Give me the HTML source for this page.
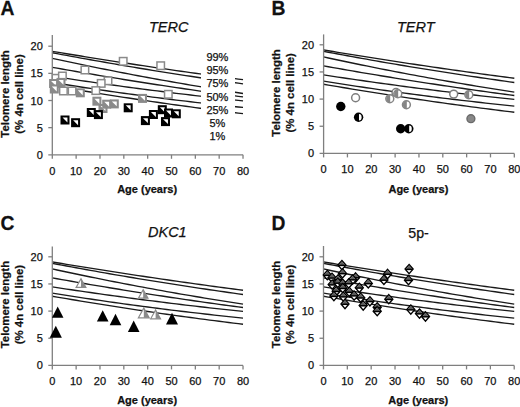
<!DOCTYPE html><html><head><meta charset="utf-8"><style>
html,body{margin:0;padding:0;background:#fff;width:520px;height:407px;overflow:hidden}
svg{display:block}
text{font-family:"Liberation Sans", sans-serif;fill:#111;stroke:#111;stroke-width:0.25px}
.t{font-size:11px}
.p{font-size:11px}
.b{font-size:11.45px;font-weight:bold}
.ax{font-size:11px;font-weight:bold}
.L{font-size:21px;font-weight:bold}
.ti{font-size:14.5px;font-style:italic}
</style></head><body>
<svg width="520" height="407" viewBox="0 0 520 407">
<rect width="520" height="407" fill="#fff"/>
<text transform="translate(0.5 14.8) scale(0.92 1)" class="L">A</text>
<text transform="translate(271.6 14.8) scale(0.92 1)" class="L">B</text>
<text transform="translate(0.5 230.3) scale(0.92 1)" class="L">C</text>
<text transform="translate(271.6 230.4) scale(0.92 1)" class="L">D</text>
<text x="149" y="31.7" class="ti">TERC</text>
<text x="397" y="31.7" class="ti">TERT</text>
<text x="148" y="236.9" class="ti">DKC1</text>
<text x="408.3" y="237.8" style="font-size:14.2px">5p-</text>
<polyline points="52.3,51.34 57.07,52.14 61.84,52.93 66.6,53.71 71.37,54.49 76.14,55.27 80.91,56.04 85.68,56.81 90.44,57.57 95.21,58.33 99.98,59.09 104.75,59.84 109.52,60.58 114.28,61.32 119.05,62.06 123.82,62.79 128.59,63.52 133.36,64.24 138.12,64.96 142.89,65.68 147.66,66.39 152.43,67.09 157.2,67.8 161.96,68.49 166.73,69.19 171.5,69.88 176.27,70.56 181.04,71.24 185.8,71.91 190.57,72.59 195.34,73.25 200.11,73.91 204.88,74.57 209.64,75.23 214.41,75.87 219.18,76.52 223.95,77.16 228.72,77.8 233.48,78.43 238.25,79.05 243.02,79.68" fill="none" stroke="#1a1a1a" stroke-width="1.35"/>
<polyline points="52.3,52.75 57.07,53.65 61.84,54.54 66.6,55.43 71.37,56.31 76.14,57.18 80.91,58.05 85.68,58.91 90.44,59.76 95.21,60.61 99.98,61.46 104.75,62.29 109.52,63.12 114.28,63.95 119.05,64.77 123.82,65.58 128.59,66.38 133.36,67.18 138.12,67.98 142.89,68.76 147.66,69.54 152.43,70.32 157.2,71.09 161.96,71.85 166.73,72.6 171.5,73.35 176.27,74.1 181.04,74.84 185.8,75.57 190.57,76.29 195.34,77.01 200.11,77.72 204.88,78.43 209.64,79.13 214.41,79.82 219.18,80.51 223.95,81.19 228.72,81.87 233.48,82.54 238.25,83.2 243.02,83.86" fill="none" stroke="#1a1a1a" stroke-width="1.35"/>
<polyline points="52.3,58.34 57.07,59.37 61.84,60.39 66.6,61.41 71.37,62.42 76.14,63.42 80.91,64.41 85.68,65.4 90.44,66.38 95.21,67.35 99.98,68.31 104.75,69.26 109.52,70.21 114.28,71.15 119.05,72.08 123.82,73 128.59,73.91 133.36,74.82 138.12,75.72 142.89,76.61 147.66,77.49 152.43,78.36 157.2,79.23 161.96,80.09 166.73,80.94 171.5,81.78 176.27,82.61 181.04,83.44 185.8,84.26 190.57,85.07 195.34,85.87 200.11,86.67 204.88,87.46 209.64,88.24 214.41,89.01 219.18,89.77 223.95,90.53 228.72,91.27 233.48,92.01 238.25,92.74 243.02,93.47" fill="none" stroke="#1a1a1a" stroke-width="1.35"/>
<polyline points="52.3,67.32 57.07,68.17 61.84,69.01 66.6,69.85 71.37,70.68 76.14,71.51 80.91,72.33 85.68,73.14 90.44,73.95 95.21,74.76 99.98,75.56 104.75,76.35 109.52,77.14 114.28,77.92 119.05,78.69 123.82,79.47 128.59,80.23 133.36,80.99 138.12,81.75 142.89,82.49 147.66,83.24 152.43,83.98 157.2,84.71 161.96,85.43 166.73,86.16 171.5,86.87 176.27,87.58 181.04,88.29 185.8,88.98 190.57,89.68 195.34,90.37 200.11,91.05 204.88,91.72 209.64,92.4 214.41,93.06 219.18,93.72 223.95,94.38 228.72,95.02 233.48,95.67 238.25,96.31 243.02,96.94" fill="none" stroke="#1a1a1a" stroke-width="1.35"/>
<polyline points="52.3,76.29 57.07,77.01 61.84,77.74 66.6,78.45 71.37,79.16 76.14,79.87 80.91,80.56 85.68,81.26 90.44,81.94 95.21,82.62 99.98,83.3 104.75,83.97 109.52,84.63 114.28,85.29 119.05,85.94 123.82,86.58 128.59,87.22 133.36,87.86 138.12,88.49 142.89,89.11 147.66,89.73 152.43,90.34 157.2,90.94 161.96,91.54 166.73,92.14 171.5,92.72 176.27,93.31 181.04,93.88 185.8,94.45 190.57,95.02 195.34,95.57 200.11,96.13 204.88,96.67 209.64,97.22 214.41,97.75 219.18,98.28 223.95,98.8 228.72,99.32 233.48,99.84 238.25,100.34 243.02,100.84" fill="none" stroke="#1a1a1a" stroke-width="1.35"/>
<polyline points="52.3,82.52 57.07,83.29 61.84,84.04 66.6,84.79 71.37,85.54 76.14,86.27 80.91,87 85.68,87.72 90.44,88.44 95.21,89.14 99.98,89.84 104.75,90.54 109.52,91.22 114.28,91.9 119.05,92.57 123.82,93.23 128.59,93.89 133.36,94.54 138.12,95.18 142.89,95.81 147.66,96.44 152.43,97.06 157.2,97.67 161.96,98.28 166.73,98.87 171.5,99.46 176.27,100.05 181.04,100.62 185.8,101.19 190.57,101.75 195.34,102.31 200.11,102.85 204.88,103.39 209.64,103.93 214.41,104.45 219.18,104.97 223.95,105.48 228.72,105.98 233.48,106.48 238.25,106.97 243.02,107.45" fill="none" stroke="#1a1a1a" stroke-width="1.35"/>
<polyline points="52.3,85.64 57.07,86.46 61.84,87.28 66.6,88.09 71.37,88.89 76.14,89.69 80.91,90.48 85.68,91.26 90.44,92.04 95.21,92.81 99.98,93.58 104.75,94.34 109.52,95.09 114.28,95.84 119.05,96.58 123.82,97.31 128.59,98.04 133.36,98.76 138.12,99.48 142.89,100.19 147.66,100.89 152.43,101.59 157.2,102.28 161.96,102.96 166.73,103.64 171.5,104.31 176.27,104.98 181.04,105.63 185.8,106.29 190.57,106.93 195.34,107.57 200.11,108.21 204.88,108.83 209.64,109.45 214.41,110.07 219.18,110.68 223.95,111.28 228.72,111.87 233.48,112.46 238.25,113.05 243.02,113.62" fill="none" stroke="#1a1a1a" stroke-width="1.35"/>
<path d="M52.3 35V158.8" stroke="#7f7f7f" stroke-width="1.3" fill="none"/>
<path d="M48.3 154.8H243.02" stroke="#7f7f7f" stroke-width="1.3" fill="none"/>
<path d="M48.3 127.65H52.3" stroke="#7f7f7f" stroke-width="1.3"/>
<path d="M48.3 100.5H52.3" stroke="#7f7f7f" stroke-width="1.3"/>
<path d="M48.3 73.35H52.3" stroke="#7f7f7f" stroke-width="1.3"/>
<path d="M48.3 46.2H52.3" stroke="#7f7f7f" stroke-width="1.3"/>
<path d="M76.14 154.8V158.8" stroke="#7f7f7f" stroke-width="1.3"/>
<path d="M99.98 154.8V158.8" stroke="#7f7f7f" stroke-width="1.3"/>
<path d="M123.82 154.8V158.8" stroke="#7f7f7f" stroke-width="1.3"/>
<path d="M147.66 154.8V158.8" stroke="#7f7f7f" stroke-width="1.3"/>
<path d="M171.5 154.8V158.8" stroke="#7f7f7f" stroke-width="1.3"/>
<path d="M195.34 154.8V158.8" stroke="#7f7f7f" stroke-width="1.3"/>
<path d="M219.18 154.8V158.8" stroke="#7f7f7f" stroke-width="1.3"/>
<path d="M243.02 154.8V158.8" stroke="#7f7f7f" stroke-width="1.3"/>
<text x="42.8" y="158.8" text-anchor="end" class="t">0</text>
<text x="42.8" y="131.65" text-anchor="end" class="t">5</text>
<text x="42.8" y="104.5" text-anchor="end" class="t">10</text>
<text x="42.8" y="77.35" text-anchor="end" class="t">15</text>
<text x="42.8" y="50.2" text-anchor="end" class="t">20</text>
<text x="52.3" y="174.6" text-anchor="middle" class="t">0</text>
<text x="76.14" y="174.6" text-anchor="middle" class="t">10</text>
<text x="99.98" y="174.6" text-anchor="middle" class="t">20</text>
<text x="123.82" y="174.6" text-anchor="middle" class="t">30</text>
<text x="147.66" y="174.6" text-anchor="middle" class="t">40</text>
<text x="171.5" y="174.6" text-anchor="middle" class="t">50</text>
<text x="195.34" y="174.6" text-anchor="middle" class="t">60</text>
<text x="219.18" y="174.6" text-anchor="middle" class="t">70</text>
<text x="243.02" y="174.6" text-anchor="middle" class="t">80</text>
<text x="147.1" y="192.8" text-anchor="middle" class="ax">Age (years)</text>
<text transform="translate(8.6 94) rotate(-90)" text-anchor="middle" class="b">Telomere length</text>
<text transform="translate(23 94) rotate(-90)" text-anchor="middle" class="b">(% 4n cell line)</text>
<rect x="201" y="40" width="34" height="105" fill="#fff"/>
<text x="217.4" y="60.6" text-anchor="middle" class="p">99%</text>
<text x="217.4" y="73.9" text-anchor="middle" class="p">95%</text>
<text x="217.4" y="87.2" text-anchor="middle" class="p">75%</text>
<text x="217.4" y="100.5" text-anchor="middle" class="p">50%</text>
<text x="217.4" y="113.8" text-anchor="middle" class="p">25%</text>
<text x="217.4" y="127.1" text-anchor="middle" class="p">5%</text>
<text x="217.4" y="140.4" text-anchor="middle" class="p">1%</text>
<rect x="119.45" y="57.55" width="7.5" height="7.5" fill="#fff" stroke="#8a8a8a" stroke-width="1.5"/>
<rect x="156.95" y="61.95" width="7.5" height="7.5" fill="#fff" stroke="#8a8a8a" stroke-width="1.5"/>
<rect x="81.15" y="66.25" width="7.5" height="7.5" fill="#fff" stroke="#8a8a8a" stroke-width="1.5"/>
<rect x="52.25" y="74.55" width="7.5" height="7.5" fill="#fff" stroke="#8a8a8a" stroke-width="1.5"/>
<rect x="58.65" y="72.25" width="7.5" height="7.5" fill="#fff" stroke="#8a8a8a" stroke-width="1.5"/>
<rect x="104.25" y="77.05" width="7.5" height="7.5" fill="#fff" stroke="#8a8a8a" stroke-width="1.5"/>
<rect x="97.45" y="79.65" width="7.5" height="7.5" fill="#fff" stroke="#8a8a8a" stroke-width="1.5"/>
<rect x="59.65" y="87.25" width="7.5" height="7.5" fill="#fff" stroke="#8a8a8a" stroke-width="1.5"/>
<rect x="68.35" y="87.25" width="7.5" height="7.5" fill="#fff" stroke="#8a8a8a" stroke-width="1.5"/>
<rect x="92.05" y="86.85" width="7.5" height="7.5" fill="#fff" stroke="#8a8a8a" stroke-width="1.5"/>
<rect x="164.55" y="90.55" width="7.5" height="7.5" fill="#fff" stroke="#8a8a8a" stroke-width="1.5"/>
<rect x="57.25" y="78.65" width="7.5" height="7.5" fill="#8a8a8a" stroke="#8a8a8a" stroke-width="1.5"/>
<path d="M58.55 79.95H63.45V84.85Z" fill="#fff"/>
<rect x="49.85" y="79.75" width="7.5" height="7.5" fill="#8a8a8a" stroke="#8a8a8a" stroke-width="1.5"/>
<path d="M51.15 81.05H56.05V85.95Z" fill="#fff"/>
<rect x="50.55" y="85.25" width="7.5" height="7.5" fill="#8a8a8a" stroke="#8a8a8a" stroke-width="1.5"/>
<path d="M51.85 86.55H56.75V91.45Z" fill="#fff"/>
<rect x="76.55" y="89.05" width="7.5" height="7.5" fill="#8a8a8a" stroke="#8a8a8a" stroke-width="1.5"/>
<path d="M77.85 90.35H82.75V95.25Z" fill="#fff"/>
<rect x="99.25" y="104.75" width="7.5" height="7.5" fill="#8a8a8a" stroke="#8a8a8a" stroke-width="1.5"/>
<path d="M100.55 106.05H105.45V110.95Z" fill="#fff"/>
<rect x="93.15" y="97.45" width="7.5" height="7.5" fill="#8a8a8a" stroke="#8a8a8a" stroke-width="1.5"/>
<path d="M94.45 98.75H99.35V103.65Z" fill="#fff"/>
<rect x="102.95" y="100.45" width="7.5" height="7.5" fill="#8a8a8a" stroke="#8a8a8a" stroke-width="1.5"/>
<path d="M104.25 101.75H109.15V106.65Z" fill="#fff"/>
<rect x="110.55" y="100.15" width="7.5" height="7.5" fill="#8a8a8a" stroke="#8a8a8a" stroke-width="1.5"/>
<path d="M111.85 101.45H116.75V106.35Z" fill="#fff"/>
<rect x="138.75" y="94.65" width="7.5" height="7.5" fill="#8a8a8a" stroke="#8a8a8a" stroke-width="1.5"/>
<path d="M140.05 95.95H144.95V100.85Z" fill="#fff"/>
<rect x="61.25" y="116.25" width="7.5" height="7.5" fill="#000" stroke="#000" stroke-width="1.5"/>
<path d="M62.55 117.55H67.45V122.45Z" fill="#fff"/>
<rect x="71.85" y="118.95" width="7.5" height="7.5" fill="#000" stroke="#000" stroke-width="1.5"/>
<path d="M73.15 120.25H78.05V125.15Z" fill="#fff"/>
<rect x="87.55" y="108.75" width="7.5" height="7.5" fill="#000" stroke="#000" stroke-width="1.5"/>
<path d="M88.85 110.05H93.75V114.95Z" fill="#fff"/>
<rect x="94.65" y="110.85" width="7.5" height="7.5" fill="#000" stroke="#000" stroke-width="1.5"/>
<path d="M95.95 112.15H100.85V117.05Z" fill="#fff"/>
<rect x="124.45" y="104.05" width="7.5" height="7.5" fill="#000" stroke="#000" stroke-width="1.5"/>
<path d="M125.75 105.35H130.65V110.25Z" fill="#fff"/>
<rect x="141.65" y="116.85" width="7.5" height="7.5" fill="#000" stroke="#000" stroke-width="1.5"/>
<path d="M142.95 118.15H147.85V123.05Z" fill="#fff"/>
<rect x="158.55" y="105.95" width="7.5" height="7.5" fill="#000" stroke="#000" stroke-width="1.5"/>
<path d="M159.85 107.25H164.75V112.15Z" fill="#fff"/>
<rect x="164.75" y="109.25" width="7.5" height="7.5" fill="#000" stroke="#000" stroke-width="1.5"/>
<path d="M166.05 110.55H170.95V115.45Z" fill="#fff"/>
<rect x="172.55" y="110.05" width="7.5" height="7.5" fill="#000" stroke="#000" stroke-width="1.5"/>
<path d="M173.85 111.35H178.75V116.25Z" fill="#fff"/>
<rect x="149.65" y="110.75" width="7.5" height="7.5" fill="#000" stroke="#000" stroke-width="1.5"/>
<path d="M150.95 112.05H155.85V116.95Z" fill="#fff"/>
<rect x="161.75" y="117.85" width="7.5" height="7.5" fill="#000" stroke="#000" stroke-width="1.5"/>
<path d="M163.05 119.15H167.95V124.05Z" fill="#fff"/>
<polyline points="323.6,49.94 328.37,50.74 333.14,51.53 337.9,52.31 342.67,53.09 347.44,53.87 352.21,54.64 356.98,55.41 361.74,56.17 366.51,56.93 371.28,57.69 376.05,58.44 380.82,59.18 385.58,59.92 390.35,60.66 395.12,61.39 399.89,62.12 404.66,62.84 409.42,63.56 414.19,64.28 418.96,64.99 423.73,65.69 428.5,66.4 433.26,67.09 438.03,67.79 442.8,68.48 447.57,69.16 452.34,69.84 457.1,70.51 461.87,71.19 466.64,71.85 471.41,72.51 476.18,73.17 480.94,73.83 485.71,74.47 490.48,75.12 495.25,75.76 500.02,76.4 504.78,77.03 509.55,77.65 514.32,78.28" fill="none" stroke="#1a1a1a" stroke-width="1.35"/>
<polyline points="323.6,51.35 328.37,52.25 333.14,53.14 337.9,54.03 342.67,54.91 347.44,55.78 352.21,56.65 356.98,57.51 361.74,58.36 366.51,59.21 371.28,60.06 376.05,60.89 380.82,61.72 385.58,62.55 390.35,63.37 395.12,64.18 399.89,64.98 404.66,65.78 409.42,66.58 414.19,67.36 418.96,68.14 423.73,68.92 428.5,69.69 433.26,70.45 438.03,71.2 442.8,71.95 447.57,72.7 452.34,73.44 457.1,74.17 461.87,74.89 466.64,75.61 471.41,76.32 476.18,77.03 480.94,77.73 485.71,78.42 490.48,79.11 495.25,79.79 500.02,80.47 504.78,81.14 509.55,81.8 514.32,82.46" fill="none" stroke="#1a1a1a" stroke-width="1.35"/>
<polyline points="323.6,56.94 328.37,57.97 333.14,58.99 337.9,60.01 342.67,61.02 347.44,62.02 352.21,63.01 356.98,64 361.74,64.98 366.51,65.95 371.28,66.91 376.05,67.86 380.82,68.81 385.58,69.75 390.35,70.68 395.12,71.6 399.89,72.51 404.66,73.42 409.42,74.32 414.19,75.21 418.96,76.09 423.73,76.96 428.5,77.83 433.26,78.69 438.03,79.54 442.8,80.38 447.57,81.21 452.34,82.04 457.1,82.86 461.87,83.67 466.64,84.47 471.41,85.27 476.18,86.06 480.94,86.84 485.71,87.61 490.48,88.37 495.25,89.13 500.02,89.87 504.78,90.61 509.55,91.34 514.32,92.07" fill="none" stroke="#1a1a1a" stroke-width="1.35"/>
<polyline points="323.6,65.92 328.37,66.77 333.14,67.61 337.9,68.45 342.67,69.28 347.44,70.11 352.21,70.93 356.98,71.74 361.74,72.55 366.51,73.36 371.28,74.16 376.05,74.95 380.82,75.74 385.58,76.52 390.35,77.29 395.12,78.07 399.89,78.83 404.66,79.59 409.42,80.35 414.19,81.09 418.96,81.84 423.73,82.58 428.5,83.31 433.26,84.03 438.03,84.76 442.8,85.47 447.57,86.18 452.34,86.89 457.1,87.58 461.87,88.28 466.64,88.97 471.41,89.65 476.18,90.32 480.94,91 485.71,91.66 490.48,92.32 495.25,92.98 500.02,93.62 504.78,94.27 509.55,94.91 514.32,95.54" fill="none" stroke="#1a1a1a" stroke-width="1.35"/>
<polyline points="323.6,74.89 328.37,75.61 333.14,76.34 337.9,77.05 342.67,77.76 347.44,78.47 352.21,79.16 356.98,79.86 361.74,80.54 366.51,81.22 371.28,81.9 376.05,82.57 380.82,83.23 385.58,83.89 390.35,84.54 395.12,85.18 399.89,85.82 404.66,86.46 409.42,87.09 414.19,87.71 418.96,88.33 423.73,88.94 428.5,89.54 433.26,90.14 438.03,90.74 442.8,91.32 447.57,91.91 452.34,92.48 457.1,93.05 461.87,93.62 466.64,94.17 471.41,94.73 476.18,95.27 480.94,95.82 485.71,96.35 490.48,96.88 495.25,97.4 500.02,97.92 504.78,98.44 509.55,98.94 514.32,99.44" fill="none" stroke="#1a1a1a" stroke-width="1.35"/>
<polyline points="323.6,81.12 328.37,81.89 333.14,82.64 337.9,83.39 342.67,84.14 347.44,84.87 352.21,85.6 356.98,86.32 361.74,87.04 366.51,87.74 371.28,88.44 376.05,89.14 380.82,89.82 385.58,90.5 390.35,91.17 395.12,91.83 399.89,92.49 404.66,93.14 409.42,93.78 414.19,94.41 418.96,95.04 423.73,95.66 428.5,96.27 433.26,96.88 438.03,97.47 442.8,98.06 447.57,98.65 452.34,99.22 457.1,99.79 461.87,100.35 466.64,100.91 471.41,101.45 476.18,101.99 480.94,102.53 485.71,103.05 490.48,103.57 495.25,104.08 500.02,104.58 504.78,105.08 509.55,105.57 514.32,106.05" fill="none" stroke="#1a1a1a" stroke-width="1.35"/>
<polyline points="323.6,84.24 328.37,85.06 333.14,85.88 337.9,86.69 342.67,87.49 347.44,88.29 352.21,89.08 356.98,89.86 361.74,90.64 366.51,91.41 371.28,92.18 376.05,92.94 380.82,93.69 385.58,94.44 390.35,95.18 395.12,95.91 399.89,96.64 404.66,97.36 409.42,98.08 414.19,98.79 418.96,99.49 423.73,100.19 428.5,100.88 433.26,101.56 438.03,102.24 442.8,102.91 447.57,103.58 452.34,104.23 457.1,104.89 461.87,105.53 466.64,106.17 471.41,106.81 476.18,107.43 480.94,108.05 485.71,108.67 490.48,109.28 495.25,109.88 500.02,110.47 504.78,111.06 509.55,111.65 514.32,112.22" fill="none" stroke="#1a1a1a" stroke-width="1.35"/>
<path d="M323.6 34.4V157.4" stroke="#7f7f7f" stroke-width="1.3" fill="none"/>
<path d="M319.6 153.4H514.32" stroke="#7f7f7f" stroke-width="1.3" fill="none"/>
<path d="M319.6 126.25H323.6" stroke="#7f7f7f" stroke-width="1.3"/>
<path d="M319.6 99.1H323.6" stroke="#7f7f7f" stroke-width="1.3"/>
<path d="M319.6 71.95H323.6" stroke="#7f7f7f" stroke-width="1.3"/>
<path d="M319.6 44.8H323.6" stroke="#7f7f7f" stroke-width="1.3"/>
<path d="M347.44 153.4V157.4" stroke="#7f7f7f" stroke-width="1.3"/>
<path d="M371.28 153.4V157.4" stroke="#7f7f7f" stroke-width="1.3"/>
<path d="M395.12 153.4V157.4" stroke="#7f7f7f" stroke-width="1.3"/>
<path d="M418.96 153.4V157.4" stroke="#7f7f7f" stroke-width="1.3"/>
<path d="M442.8 153.4V157.4" stroke="#7f7f7f" stroke-width="1.3"/>
<path d="M466.64 153.4V157.4" stroke="#7f7f7f" stroke-width="1.3"/>
<path d="M490.48 153.4V157.4" stroke="#7f7f7f" stroke-width="1.3"/>
<path d="M514.32 153.4V157.4" stroke="#7f7f7f" stroke-width="1.3"/>
<text x="314.1" y="157.4" text-anchor="end" class="t">0</text>
<text x="314.1" y="130.25" text-anchor="end" class="t">5</text>
<text x="314.1" y="103.1" text-anchor="end" class="t">10</text>
<text x="314.1" y="75.95" text-anchor="end" class="t">15</text>
<text x="314.1" y="48.8" text-anchor="end" class="t">20</text>
<text x="323.6" y="173.2" text-anchor="middle" class="t">0</text>
<text x="347.44" y="173.2" text-anchor="middle" class="t">10</text>
<text x="371.28" y="173.2" text-anchor="middle" class="t">20</text>
<text x="395.12" y="173.2" text-anchor="middle" class="t">30</text>
<text x="418.96" y="173.2" text-anchor="middle" class="t">40</text>
<text x="442.8" y="173.2" text-anchor="middle" class="t">50</text>
<text x="466.64" y="173.2" text-anchor="middle" class="t">60</text>
<text x="490.48" y="173.2" text-anchor="middle" class="t">70</text>
<text x="514.32" y="173.2" text-anchor="middle" class="t">80</text>
<text x="418.4" y="192.5" text-anchor="middle" class="ax">Age (years)</text>
<text transform="translate(279.8 92.9) rotate(-90)" text-anchor="middle" class="b">Telomere length</text>
<text transform="translate(294.3 92.9) rotate(-90)" text-anchor="middle" class="b">(% 4n cell line)</text>
<circle cx="340.8" cy="106.5" r="4.7" fill="#000"/>
<circle cx="400.7" cy="128.8" r="4.7" fill="#000"/>
<circle cx="358.6" cy="117.2" r="4.7" fill="#000"/>
<path d="M359 113.9A2.6 3.3 0 0 1 359 120.5Z" fill="#fff"/>
<circle cx="408.8" cy="128.8" r="4.7" fill="#000"/>
<path d="M409.2 125.5A2.6 3.3 0 0 1 409.2 132.1Z" fill="#fff"/>
<circle cx="355.6" cy="97.7" r="3.95" fill="#fff" stroke="#7d7d7d" stroke-width="1.5"/>
<circle cx="453.7" cy="94.1" r="3.95" fill="#fff" stroke="#7d7d7d" stroke-width="1.5"/>
<circle cx="389.8" cy="98.8" r="3.95" fill="#fff" stroke="#858585" stroke-width="1.5"/>
<path d="M390.2 94.85A3.95 3.95 0 0 0 390.2 102.75Z" fill="#858585"/>
<circle cx="396" cy="92.5" r="3.95" fill="#fff" stroke="#7d7d7d" stroke-width="1.5"/>
<circle cx="397.8" cy="93.8" r="3.95" fill="#fff" stroke="#858585" stroke-width="1.5"/>
<path d="M398.2 89.85A3.95 3.95 0 0 0 398.2 97.75Z" fill="#858585"/>
<circle cx="406.4" cy="104.7" r="3.95" fill="#fff" stroke="#858585" stroke-width="1.5"/>
<path d="M406.8 100.75A3.95 3.95 0 0 0 406.8 108.65Z" fill="#858585"/>
<circle cx="468.8" cy="94.7" r="3.95" fill="#fff" stroke="#858585" stroke-width="1.5"/>
<path d="M469.2 90.75A3.95 3.95 0 0 0 469.2 98.65Z" fill="#858585"/>
<circle cx="470.9" cy="118.7" r="3.95" fill="#888" stroke="#6a6a6a" stroke-width="1.4"/>
<polyline points="52.3,261.94 57.07,262.74 61.84,263.53 66.6,264.31 71.37,265.09 76.14,265.87 80.91,266.64 85.68,267.41 90.44,268.17 95.21,268.93 99.98,269.69 104.75,270.44 109.52,271.18 114.28,271.92 119.05,272.66 123.82,273.39 128.59,274.12 133.36,274.84 138.12,275.56 142.89,276.28 147.66,276.99 152.43,277.69 157.2,278.4 161.96,279.09 166.73,279.79 171.5,280.48 176.27,281.16 181.04,281.84 185.8,282.51 190.57,283.19 195.34,283.85 200.11,284.51 204.88,285.17 209.64,285.83 214.41,286.47 219.18,287.12 223.95,287.76 228.72,288.4 233.48,289.03 238.25,289.65 243.02,290.28" fill="none" stroke="#1a1a1a" stroke-width="1.35"/>
<polyline points="52.3,263.35 57.07,264.25 61.84,265.14 66.6,266.03 71.37,266.91 76.14,267.78 80.91,268.65 85.68,269.51 90.44,270.36 95.21,271.21 99.98,272.06 104.75,272.89 109.52,273.72 114.28,274.55 119.05,275.37 123.82,276.18 128.59,276.98 133.36,277.78 138.12,278.58 142.89,279.36 147.66,280.14 152.43,280.92 157.2,281.69 161.96,282.45 166.73,283.2 171.5,283.95 176.27,284.7 181.04,285.44 185.8,286.17 190.57,286.89 195.34,287.61 200.11,288.32 204.88,289.03 209.64,289.73 214.41,290.42 219.18,291.11 223.95,291.79 228.72,292.47 233.48,293.14 238.25,293.8 243.02,294.46" fill="none" stroke="#1a1a1a" stroke-width="1.35"/>
<polyline points="52.3,268.94 57.07,269.97 61.84,270.99 66.6,272.01 71.37,273.02 76.14,274.02 80.91,275.01 85.68,276 90.44,276.98 95.21,277.95 99.98,278.91 104.75,279.86 109.52,280.81 114.28,281.75 119.05,282.68 123.82,283.6 128.59,284.51 133.36,285.42 138.12,286.32 142.89,287.21 147.66,288.09 152.43,288.96 157.2,289.83 161.96,290.69 166.73,291.54 171.5,292.38 176.27,293.21 181.04,294.04 185.8,294.86 190.57,295.67 195.34,296.47 200.11,297.27 204.88,298.06 209.64,298.84 214.41,299.61 219.18,300.37 223.95,301.13 228.72,301.87 233.48,302.61 238.25,303.34 243.02,304.07" fill="none" stroke="#1a1a1a" stroke-width="1.35"/>
<polyline points="52.3,277.92 57.07,278.77 61.84,279.61 66.6,280.45 71.37,281.28 76.14,282.11 80.91,282.93 85.68,283.74 90.44,284.55 95.21,285.36 99.98,286.16 104.75,286.95 109.52,287.74 114.28,288.52 119.05,289.29 123.82,290.07 128.59,290.83 133.36,291.59 138.12,292.35 142.89,293.09 147.66,293.84 152.43,294.58 157.2,295.31 161.96,296.03 166.73,296.76 171.5,297.47 176.27,298.18 181.04,298.89 185.8,299.58 190.57,300.28 195.34,300.97 200.11,301.65 204.88,302.32 209.64,303 214.41,303.66 219.18,304.32 223.95,304.98 228.72,305.62 233.48,306.27 238.25,306.91 243.02,307.54" fill="none" stroke="#1a1a1a" stroke-width="1.35"/>
<polyline points="52.3,286.89 57.07,287.61 61.84,288.34 66.6,289.05 71.37,289.76 76.14,290.47 80.91,291.16 85.68,291.86 90.44,292.54 95.21,293.22 99.98,293.9 104.75,294.57 109.52,295.23 114.28,295.89 119.05,296.54 123.82,297.18 128.59,297.82 133.36,298.46 138.12,299.09 142.89,299.71 147.66,300.33 152.43,300.94 157.2,301.54 161.96,302.14 166.73,302.74 171.5,303.32 176.27,303.91 181.04,304.48 185.8,305.05 190.57,305.62 195.34,306.17 200.11,306.73 204.88,307.27 209.64,307.82 214.41,308.35 219.18,308.88 223.95,309.4 228.72,309.92 233.48,310.44 238.25,310.94 243.02,311.44" fill="none" stroke="#1a1a1a" stroke-width="1.35"/>
<polyline points="52.3,293.12 57.07,293.89 61.84,294.64 66.6,295.39 71.37,296.14 76.14,296.87 80.91,297.6 85.68,298.32 90.44,299.04 95.21,299.74 99.98,300.44 104.75,301.14 109.52,301.82 114.28,302.5 119.05,303.17 123.82,303.83 128.59,304.49 133.36,305.14 138.12,305.78 142.89,306.41 147.66,307.04 152.43,307.66 157.2,308.27 161.96,308.88 166.73,309.47 171.5,310.06 176.27,310.65 181.04,311.22 185.8,311.79 190.57,312.35 195.34,312.91 200.11,313.45 204.88,313.99 209.64,314.53 214.41,315.05 219.18,315.57 223.95,316.08 228.72,316.58 233.48,317.08 238.25,317.57 243.02,318.05" fill="none" stroke="#1a1a1a" stroke-width="1.35"/>
<polyline points="52.3,296.24 57.07,297.06 61.84,297.88 66.6,298.69 71.37,299.49 76.14,300.29 80.91,301.08 85.68,301.86 90.44,302.64 95.21,303.41 99.98,304.18 104.75,304.94 109.52,305.69 114.28,306.44 119.05,307.18 123.82,307.91 128.59,308.64 133.36,309.36 138.12,310.08 142.89,310.79 147.66,311.49 152.43,312.19 157.2,312.88 161.96,313.56 166.73,314.24 171.5,314.91 176.27,315.58 181.04,316.23 185.8,316.89 190.57,317.53 195.34,318.17 200.11,318.81 204.88,319.43 209.64,320.05 214.41,320.67 219.18,321.28 223.95,321.88 228.72,322.47 233.48,323.06 238.25,323.65 243.02,324.22" fill="none" stroke="#1a1a1a" stroke-width="1.35"/>
<path d="M52.3 246.6V369.4" stroke="#7f7f7f" stroke-width="1.3" fill="none"/>
<path d="M48.3 365.4H243.02" stroke="#7f7f7f" stroke-width="1.3" fill="none"/>
<path d="M48.3 338.25H52.3" stroke="#7f7f7f" stroke-width="1.3"/>
<path d="M48.3 311.1H52.3" stroke="#7f7f7f" stroke-width="1.3"/>
<path d="M48.3 283.95H52.3" stroke="#7f7f7f" stroke-width="1.3"/>
<path d="M48.3 256.8H52.3" stroke="#7f7f7f" stroke-width="1.3"/>
<path d="M76.14 365.4V369.4" stroke="#7f7f7f" stroke-width="1.3"/>
<path d="M99.98 365.4V369.4" stroke="#7f7f7f" stroke-width="1.3"/>
<path d="M123.82 365.4V369.4" stroke="#7f7f7f" stroke-width="1.3"/>
<path d="M147.66 365.4V369.4" stroke="#7f7f7f" stroke-width="1.3"/>
<path d="M171.5 365.4V369.4" stroke="#7f7f7f" stroke-width="1.3"/>
<path d="M195.34 365.4V369.4" stroke="#7f7f7f" stroke-width="1.3"/>
<path d="M219.18 365.4V369.4" stroke="#7f7f7f" stroke-width="1.3"/>
<path d="M243.02 365.4V369.4" stroke="#7f7f7f" stroke-width="1.3"/>
<text x="42.8" y="369.4" text-anchor="end" class="t">0</text>
<text x="42.8" y="342.25" text-anchor="end" class="t">5</text>
<text x="42.8" y="315.1" text-anchor="end" class="t">10</text>
<text x="42.8" y="287.95" text-anchor="end" class="t">15</text>
<text x="42.8" y="260.8" text-anchor="end" class="t">20</text>
<text x="52.3" y="385.2" text-anchor="middle" class="t">0</text>
<text x="76.14" y="385.2" text-anchor="middle" class="t">10</text>
<text x="99.98" y="385.2" text-anchor="middle" class="t">20</text>
<text x="123.82" y="385.2" text-anchor="middle" class="t">30</text>
<text x="147.66" y="385.2" text-anchor="middle" class="t">40</text>
<text x="171.5" y="385.2" text-anchor="middle" class="t">50</text>
<text x="195.34" y="385.2" text-anchor="middle" class="t">60</text>
<text x="219.18" y="385.2" text-anchor="middle" class="t">70</text>
<text x="243.02" y="385.2" text-anchor="middle" class="t">80</text>
<text x="147.1" y="404.2" text-anchor="middle" class="ax">Age (years)</text>
<text transform="translate(8.6 304.6) rotate(-90)" text-anchor="middle" class="b">Telomere length</text>
<text transform="translate(23 304.6) rotate(-90)" text-anchor="middle" class="b">(% 4n cell line)</text>
<path d="M57.7 306.4L63.46 317.7H51.94Z" fill="#000"/>
<path d="M55.8 325.7L61.92 337.7H49.68Z" fill="#000"/>
<path d="M102.7 310.2L108.51 321.6H96.89Z" fill="#000"/>
<path d="M115.5 313.8L121.31 325.2H109.69Z" fill="#000"/>
<path d="M133.7 320.5L139.51 331.9H127.89Z" fill="#000"/>
<path d="M172 312.8L178.02 324.6H165.98Z" fill="#000"/>
<path d="M81 278.7L85.87 287.4H76.13Z" fill="#fff" stroke="#8a8a8a" stroke-width="1.2" stroke-linejoin="miter"/>
<path d="M81 278.7L85.87 287.4H81Z" fill="#8a8a8a"/>
<path d="M143.2 289.7L147.96 298.2H138.44Z" fill="#fff" stroke="#8a8a8a" stroke-width="1.2" stroke-linejoin="miter"/>
<path d="M143.2 289.7L147.96 298.2H143.2Z" fill="#8a8a8a"/>
<path d="M143.8 308.1L149.23 317.8H138.37Z" fill="#fff" stroke="#8a8a8a" stroke-width="1.2" stroke-linejoin="miter"/>
<path d="M143.8 308.1L149.23 317.8H143.8Z" fill="#8a8a8a"/>
<path d="M155.6 310L160.53 318.8H150.67Z" fill="#fff" stroke="#8a8a8a" stroke-width="1.2" stroke-linejoin="miter"/>
<path d="M155.6 310L160.53 318.8H155.6Z" fill="#8a8a8a"/>
<polyline points="323.5,261.94 328.27,262.74 333.04,263.53 337.8,264.31 342.57,265.09 347.34,265.87 352.11,266.64 356.88,267.41 361.64,268.17 366.41,268.93 371.18,269.69 375.95,270.44 380.72,271.18 385.48,271.92 390.25,272.66 395.02,273.39 399.79,274.12 404.56,274.84 409.32,275.56 414.09,276.28 418.86,276.99 423.63,277.69 428.4,278.4 433.16,279.09 437.93,279.79 442.7,280.48 447.47,281.16 452.24,281.84 457,282.51 461.77,283.19 466.54,283.85 471.31,284.51 476.08,285.17 480.84,285.83 485.61,286.47 490.38,287.12 495.15,287.76 499.92,288.4 504.68,289.03 509.45,289.65 514.22,290.28" fill="none" stroke="#1a1a1a" stroke-width="1.35"/>
<polyline points="323.5,263.35 328.27,264.25 333.04,265.14 337.8,266.03 342.57,266.91 347.34,267.78 352.11,268.65 356.88,269.51 361.64,270.36 366.41,271.21 371.18,272.06 375.95,272.89 380.72,273.72 385.48,274.55 390.25,275.37 395.02,276.18 399.79,276.98 404.56,277.78 409.32,278.58 414.09,279.36 418.86,280.14 423.63,280.92 428.4,281.69 433.16,282.45 437.93,283.2 442.7,283.95 447.47,284.7 452.24,285.44 457,286.17 461.77,286.89 466.54,287.61 471.31,288.32 476.08,289.03 480.84,289.73 485.61,290.42 490.38,291.11 495.15,291.79 499.92,292.47 504.68,293.14 509.45,293.8 514.22,294.46" fill="none" stroke="#1a1a1a" stroke-width="1.35"/>
<polyline points="323.5,268.94 328.27,269.97 333.04,270.99 337.8,272.01 342.57,273.02 347.34,274.02 352.11,275.01 356.88,276 361.64,276.98 366.41,277.95 371.18,278.91 375.95,279.86 380.72,280.81 385.48,281.75 390.25,282.68 395.02,283.6 399.79,284.51 404.56,285.42 409.32,286.32 414.09,287.21 418.86,288.09 423.63,288.96 428.4,289.83 433.16,290.69 437.93,291.54 442.7,292.38 447.47,293.21 452.24,294.04 457,294.86 461.77,295.67 466.54,296.47 471.31,297.27 476.08,298.06 480.84,298.84 485.61,299.61 490.38,300.37 495.15,301.13 499.92,301.87 504.68,302.61 509.45,303.34 514.22,304.07" fill="none" stroke="#1a1a1a" stroke-width="1.35"/>
<polyline points="323.5,277.92 328.27,278.77 333.04,279.61 337.8,280.45 342.57,281.28 347.34,282.11 352.11,282.93 356.88,283.74 361.64,284.55 366.41,285.36 371.18,286.16 375.95,286.95 380.72,287.74 385.48,288.52 390.25,289.29 395.02,290.07 399.79,290.83 404.56,291.59 409.32,292.35 414.09,293.09 418.86,293.84 423.63,294.58 428.4,295.31 433.16,296.03 437.93,296.76 442.7,297.47 447.47,298.18 452.24,298.89 457,299.58 461.77,300.28 466.54,300.97 471.31,301.65 476.08,302.32 480.84,303 485.61,303.66 490.38,304.32 495.15,304.98 499.92,305.62 504.68,306.27 509.45,306.91 514.22,307.54" fill="none" stroke="#1a1a1a" stroke-width="1.35"/>
<polyline points="323.5,286.89 328.27,287.61 333.04,288.34 337.8,289.05 342.57,289.76 347.34,290.47 352.11,291.16 356.88,291.86 361.64,292.54 366.41,293.22 371.18,293.9 375.95,294.57 380.72,295.23 385.48,295.89 390.25,296.54 395.02,297.18 399.79,297.82 404.56,298.46 409.32,299.09 414.09,299.71 418.86,300.33 423.63,300.94 428.4,301.54 433.16,302.14 437.93,302.74 442.7,303.32 447.47,303.91 452.24,304.48 457,305.05 461.77,305.62 466.54,306.17 471.31,306.73 476.08,307.27 480.84,307.82 485.61,308.35 490.38,308.88 495.15,309.4 499.92,309.92 504.68,310.44 509.45,310.94 514.22,311.44" fill="none" stroke="#1a1a1a" stroke-width="1.35"/>
<polyline points="323.5,293.12 328.27,293.89 333.04,294.64 337.8,295.39 342.57,296.14 347.34,296.87 352.11,297.6 356.88,298.32 361.64,299.04 366.41,299.74 371.18,300.44 375.95,301.14 380.72,301.82 385.48,302.5 390.25,303.17 395.02,303.83 399.79,304.49 404.56,305.14 409.32,305.78 414.09,306.41 418.86,307.04 423.63,307.66 428.4,308.27 433.16,308.88 437.93,309.47 442.7,310.06 447.47,310.65 452.24,311.22 457,311.79 461.77,312.35 466.54,312.91 471.31,313.45 476.08,313.99 480.84,314.53 485.61,315.05 490.38,315.57 495.15,316.08 499.92,316.58 504.68,317.08 509.45,317.57 514.22,318.05" fill="none" stroke="#1a1a1a" stroke-width="1.35"/>
<polyline points="323.5,296.24 328.27,297.06 333.04,297.88 337.8,298.69 342.57,299.49 347.34,300.29 352.11,301.08 356.88,301.86 361.64,302.64 366.41,303.41 371.18,304.18 375.95,304.94 380.72,305.69 385.48,306.44 390.25,307.18 395.02,307.91 399.79,308.64 404.56,309.36 409.32,310.08 414.09,310.79 418.86,311.49 423.63,312.19 428.4,312.88 433.16,313.56 437.93,314.24 442.7,314.91 447.47,315.58 452.24,316.23 457,316.89 461.77,317.53 466.54,318.17 471.31,318.81 476.08,319.43 480.84,320.05 485.61,320.67 490.38,321.28 495.15,321.88 499.92,322.47 504.68,323.06 509.45,323.65 514.22,324.22" fill="none" stroke="#1a1a1a" stroke-width="1.35"/>
<path d="M323.5 246V369.4" stroke="#7f7f7f" stroke-width="1.3" fill="none"/>
<path d="M319.5 365.4H514.22" stroke="#7f7f7f" stroke-width="1.3" fill="none"/>
<path d="M319.5 338.25H323.5" stroke="#7f7f7f" stroke-width="1.3"/>
<path d="M319.5 311.1H323.5" stroke="#7f7f7f" stroke-width="1.3"/>
<path d="M319.5 283.95H323.5" stroke="#7f7f7f" stroke-width="1.3"/>
<path d="M319.5 256.8H323.5" stroke="#7f7f7f" stroke-width="1.3"/>
<path d="M347.34 365.4V369.4" stroke="#7f7f7f" stroke-width="1.3"/>
<path d="M371.18 365.4V369.4" stroke="#7f7f7f" stroke-width="1.3"/>
<path d="M395.02 365.4V369.4" stroke="#7f7f7f" stroke-width="1.3"/>
<path d="M418.86 365.4V369.4" stroke="#7f7f7f" stroke-width="1.3"/>
<path d="M442.7 365.4V369.4" stroke="#7f7f7f" stroke-width="1.3"/>
<path d="M466.54 365.4V369.4" stroke="#7f7f7f" stroke-width="1.3"/>
<path d="M490.38 365.4V369.4" stroke="#7f7f7f" stroke-width="1.3"/>
<path d="M514.22 365.4V369.4" stroke="#7f7f7f" stroke-width="1.3"/>
<text x="314" y="369.4" text-anchor="end" class="t">0</text>
<text x="314" y="342.25" text-anchor="end" class="t">5</text>
<text x="314" y="315.1" text-anchor="end" class="t">10</text>
<text x="314" y="287.95" text-anchor="end" class="t">15</text>
<text x="314" y="260.8" text-anchor="end" class="t">20</text>
<text x="323.5" y="385.2" text-anchor="middle" class="t">0</text>
<text x="347.34" y="385.2" text-anchor="middle" class="t">10</text>
<text x="371.18" y="385.2" text-anchor="middle" class="t">20</text>
<text x="395.02" y="385.2" text-anchor="middle" class="t">30</text>
<text x="418.86" y="385.2" text-anchor="middle" class="t">40</text>
<text x="442.7" y="385.2" text-anchor="middle" class="t">50</text>
<text x="466.54" y="385.2" text-anchor="middle" class="t">60</text>
<text x="490.38" y="385.2" text-anchor="middle" class="t">70</text>
<text x="514.22" y="385.2" text-anchor="middle" class="t">80</text>
<text x="418.3" y="404.2" text-anchor="middle" class="ax">Age (years)</text>
<text transform="translate(280 304.5) rotate(-90)" text-anchor="middle" class="b">Telomere length</text>
<text transform="translate(294.4 304.5) rotate(-90)" text-anchor="middle" class="b">(% 4n cell line)</text>
<path d="M341.9 260.5L345.9 265.1L341.9 269.7L337.9 265.1Z" fill="#fff" stroke="#000" stroke-width="1.4"/>
<path d="M341.9 261.3L345.4 265.4H338.4Z" fill="#5e5e5e"/>
<path d="M338.2 265.4H345.6" stroke="#000" stroke-width="1.5"/>
<path d="M327.3 270.5L331.3 275.1L327.3 279.7L323.3 275.1Z" fill="#fff" stroke="#000" stroke-width="1.4"/>
<path d="M327.3 271.3L330.8 275.4H323.8Z" fill="#5e5e5e"/>
<path d="M323.6 275.4H331" stroke="#000" stroke-width="1.5"/>
<path d="M342.5 268.8L346.5 273.4L342.5 278L338.5 273.4Z" fill="#fff" stroke="#000" stroke-width="1.4"/>
<path d="M342.5 269.6L346 273.7H339Z" fill="#5e5e5e"/>
<path d="M338.8 273.7H346.2" stroke="#000" stroke-width="1.5"/>
<path d="M332 273.2L336 277.8L332 282.4L328 277.8Z" fill="#fff" stroke="#000" stroke-width="1.4"/>
<path d="M332 274L335.5 278.1H328.5Z" fill="#5e5e5e"/>
<path d="M328.3 278.1H335.7" stroke="#000" stroke-width="1.5"/>
<path d="M338.1 274.8L342.1 279.4L338.1 284L334.1 279.4Z" fill="#fff" stroke="#000" stroke-width="1.4"/>
<path d="M338.1 275.6L341.6 279.7H334.6Z" fill="#5e5e5e"/>
<path d="M334.4 279.7H341.8" stroke="#000" stroke-width="1.5"/>
<path d="M355.6 272.9L359.6 277.5L355.6 282.1L351.6 277.5Z" fill="#fff" stroke="#000" stroke-width="1.4"/>
<path d="M355.6 273.7L359.1 277.8H352.1Z" fill="#5e5e5e"/>
<path d="M351.9 277.8H359.3" stroke="#000" stroke-width="1.5"/>
<path d="M352.6 275L356.6 279.6L352.6 284.2L348.6 279.6Z" fill="#fff" stroke="#000" stroke-width="1.4"/>
<path d="M352.6 275.8L356.1 279.9H349.1Z" fill="#5e5e5e"/>
<path d="M348.9 279.9H356.3" stroke="#000" stroke-width="1.5"/>
<path d="M368.3 278.8L372.3 283.4L368.3 288L364.3 283.4Z" fill="#fff" stroke="#000" stroke-width="1.4"/>
<path d="M368.3 279.6L371.8 283.7H364.8Z" fill="#5e5e5e"/>
<path d="M364.6 283.7H372" stroke="#000" stroke-width="1.5"/>
<path d="M332.2 280L336.2 284.6L332.2 289.2L328.2 284.6Z" fill="#fff" stroke="#000" stroke-width="1.4"/>
<path d="M332.2 280.8L335.7 284.9H328.7Z" fill="#5e5e5e"/>
<path d="M328.5 284.9H335.9" stroke="#000" stroke-width="1.5"/>
<path d="M337.8 278.3L341.8 282.9L337.8 287.5L333.8 282.9Z" fill="#fff" stroke="#000" stroke-width="1.4"/>
<path d="M337.8 279.1L341.3 283.2H334.3Z" fill="#5e5e5e"/>
<path d="M334.1 283.2H341.5" stroke="#000" stroke-width="1.5"/>
<path d="M342.7 279.2L346.7 283.8L342.7 288.4L338.7 283.8Z" fill="#fff" stroke="#000" stroke-width="1.4"/>
<path d="M342.7 280L346.2 284.1H339.2Z" fill="#5e5e5e"/>
<path d="M339 284.1H346.4" stroke="#000" stroke-width="1.5"/>
<path d="M348.7 278.9L352.7 283.5L348.7 288.1L344.7 283.5Z" fill="#fff" stroke="#000" stroke-width="1.4"/>
<path d="M348.7 279.7L352.2 283.8H345.2Z" fill="#5e5e5e"/>
<path d="M345 283.8H352.4" stroke="#000" stroke-width="1.5"/>
<path d="M359.3 283.2L363.3 287.8L359.3 292.4L355.3 287.8Z" fill="#fff" stroke="#000" stroke-width="1.4"/>
<path d="M359.3 284L362.8 288.1H355.8Z" fill="#5e5e5e"/>
<path d="M355.6 288.1H363" stroke="#000" stroke-width="1.5"/>
<path d="M342.7 283.6L346.7 288.2L342.7 292.8L338.7 288.2Z" fill="#fff" stroke="#000" stroke-width="1.4"/>
<path d="M342.7 284.4L346.2 288.5H339.2Z" fill="#5e5e5e"/>
<path d="M339 288.5H346.4" stroke="#000" stroke-width="1.5"/>
<path d="M336.2 286.6L340.2 291.2L336.2 295.8L332.2 291.2Z" fill="#fff" stroke="#000" stroke-width="1.4"/>
<path d="M336.2 287.4L339.7 291.5H332.7Z" fill="#5e5e5e"/>
<path d="M332.5 291.5H339.9" stroke="#000" stroke-width="1.5"/>
<path d="M349.3 287.4L353.3 292L349.3 296.6L345.3 292Z" fill="#fff" stroke="#000" stroke-width="1.4"/>
<path d="M349.3 288.2L352.8 292.3H345.8Z" fill="#5e5e5e"/>
<path d="M345.6 292.3H353" stroke="#000" stroke-width="1.5"/>
<path d="M333.9 291.5L337.9 296.1L333.9 300.7L329.9 296.1Z" fill="#fff" stroke="#000" stroke-width="1.4"/>
<path d="M333.9 292.3L337.4 296.4H330.4Z" fill="#5e5e5e"/>
<path d="M330.2 296.4H337.6" stroke="#000" stroke-width="1.5"/>
<path d="M343.3 292L347.3 296.6L343.3 301.2L339.3 296.6Z" fill="#fff" stroke="#000" stroke-width="1.4"/>
<path d="M343.3 292.8L346.8 296.9H339.8Z" fill="#5e5e5e"/>
<path d="M339.6 296.9H347" stroke="#000" stroke-width="1.5"/>
<path d="M354.1 291L358.1 295.6L354.1 300.2L350.1 295.6Z" fill="#fff" stroke="#000" stroke-width="1.4"/>
<path d="M354.1 291.8L357.6 295.9H350.6Z" fill="#5e5e5e"/>
<path d="M350.4 295.9H357.8" stroke="#000" stroke-width="1.5"/>
<path d="M360.7 293.1L364.7 297.7L360.7 302.3L356.7 297.7Z" fill="#fff" stroke="#000" stroke-width="1.4"/>
<path d="M360.7 293.9L364.2 298H357.2Z" fill="#5e5e5e"/>
<path d="M357 298H364.4" stroke="#000" stroke-width="1.5"/>
<path d="M345 299.4L349 304L345 308.6L341 304Z" fill="#fff" stroke="#000" stroke-width="1.4"/>
<path d="M345 300.2L348.5 304.3H341.5Z" fill="#5e5e5e"/>
<path d="M341.3 304.3H348.7" stroke="#000" stroke-width="1.5"/>
<path d="M363.2 300.9L367.2 305.5L363.2 310.1L359.2 305.5Z" fill="#fff" stroke="#000" stroke-width="1.4"/>
<path d="M363.2 301.7L366.7 305.8H359.7Z" fill="#5e5e5e"/>
<path d="M359.5 305.8H366.9" stroke="#000" stroke-width="1.5"/>
<path d="M369.9 296.7L373.9 301.3L369.9 305.9L365.9 301.3Z" fill="#fff" stroke="#000" stroke-width="1.4"/>
<path d="M369.9 297.5L373.4 301.6H366.4Z" fill="#5e5e5e"/>
<path d="M366.2 301.6H373.6" stroke="#000" stroke-width="1.5"/>
<path d="M377.2 302.7L381.2 307.3L377.2 311.9L373.2 307.3Z" fill="#fff" stroke="#000" stroke-width="1.4"/>
<path d="M377.2 303.5L380.7 307.6H373.7Z" fill="#5e5e5e"/>
<path d="M373.5 307.6H380.9" stroke="#000" stroke-width="1.5"/>
<path d="M377.2 306.6L381.2 311.2L377.2 315.8L373.2 311.2Z" fill="#fff" stroke="#000" stroke-width="1.4"/>
<path d="M377.2 307.4L380.7 311.5H373.7Z" fill="#5e5e5e"/>
<path d="M373.5 311.5H380.9" stroke="#000" stroke-width="1.5"/>
<path d="M387.6 269.4L391.6 274L387.6 278.6L383.6 274Z" fill="#fff" stroke="#000" stroke-width="1.4"/>
<path d="M387.6 270.2L391.1 274.3H384.1Z" fill="#5e5e5e"/>
<path d="M383.9 274.3H391.3" stroke="#000" stroke-width="1.5"/>
<path d="M383.9 275.3L387.9 279.9L383.9 284.5L379.9 279.9Z" fill="#fff" stroke="#000" stroke-width="1.4"/>
<path d="M383.9 276.1L387.4 280.2H380.4Z" fill="#5e5e5e"/>
<path d="M380.2 280.2H387.6" stroke="#000" stroke-width="1.5"/>
<path d="M388.8 294.6L392.8 299.2L388.8 303.8L384.8 299.2Z" fill="#fff" stroke="#000" stroke-width="1.4"/>
<path d="M388.8 295.4L392.3 299.5H385.3Z" fill="#5e5e5e"/>
<path d="M385.1 299.5H392.5" stroke="#000" stroke-width="1.5"/>
<path d="M409.1 264.5L413.1 269.1L409.1 273.7L405.1 269.1Z" fill="#fff" stroke="#000" stroke-width="1.4"/>
<path d="M409.1 265.3L412.6 269.4H405.6Z" fill="#5e5e5e"/>
<path d="M405.4 269.4H412.8" stroke="#000" stroke-width="1.5"/>
<path d="M408.5 275.6L412.5 280.2L408.5 284.8L404.5 280.2Z" fill="#fff" stroke="#000" stroke-width="1.4"/>
<path d="M408.5 276.4L412 280.5H405Z" fill="#5e5e5e"/>
<path d="M404.8 280.5H412.2" stroke="#000" stroke-width="1.5"/>
<path d="M410.8 305L414.8 309.6L410.8 314.2L406.8 309.6Z" fill="#fff" stroke="#000" stroke-width="1.4"/>
<path d="M410.8 305.8L414.3 309.9H407.3Z" fill="#5e5e5e"/>
<path d="M407.1 309.9H414.5" stroke="#000" stroke-width="1.5"/>
<path d="M419.5 309L423.5 313.6L419.5 318.2L415.5 313.6Z" fill="#fff" stroke="#000" stroke-width="1.4"/>
<path d="M419.5 309.8L423 313.9H416Z" fill="#5e5e5e"/>
<path d="M415.8 313.9H423.2" stroke="#000" stroke-width="1.5"/>
<path d="M425.5 311.9L429.5 316.5L425.5 321.1L421.5 316.5Z" fill="#fff" stroke="#000" stroke-width="1.4"/>
<path d="M425.5 312.7L429 316.8H422Z" fill="#5e5e5e"/>
<path d="M421.8 316.8H429.2" stroke="#000" stroke-width="1.5"/>
</svg></body></html>
